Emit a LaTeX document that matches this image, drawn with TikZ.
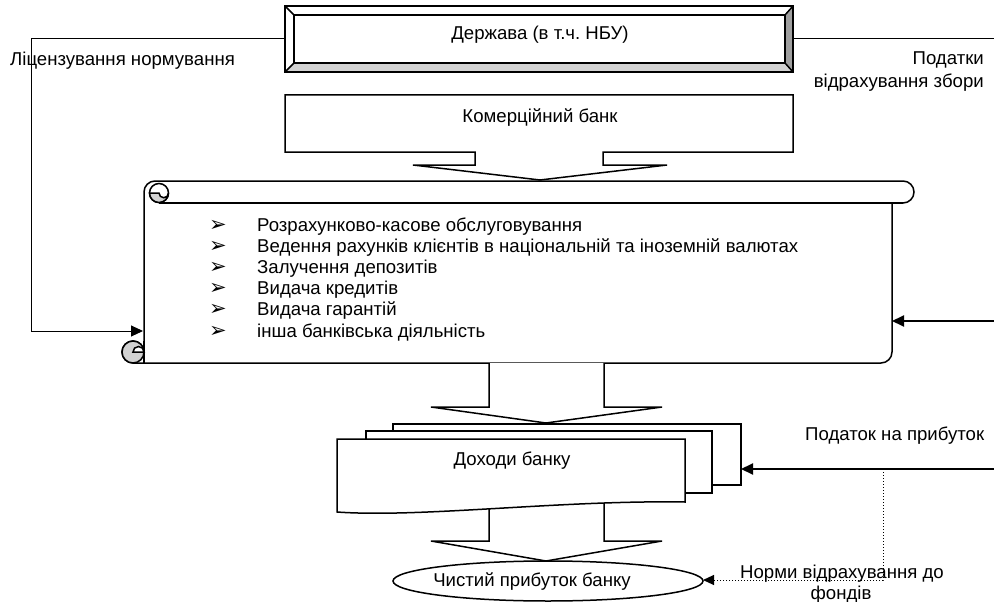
\documentclass[tikz,border=0pt]{standalone}
\usepackage{fontspec}
\setmainfont{Liberation Sans}
\newfontfamily\dingfont{DejaVu Sans}
\usetikzlibrary{arrows.meta}
\frenchspacing

\begin{document}
\begin{tikzpicture}[x=1pt, y=-1pt,
  outline/.style={line width=1.5pt, fill=white},
  link/.style={line width=1pt},
  feed/.style={line width=2pt, arrows={-Triangle[length=12pt, width=11pt]}},
  hint/.style={line width=1pt, dotted, arrows={-Triangle[length=11pt, width=10pt]}},
  label/.style={font=\fontsize{18.6}{23}\selectfont, inner sep=0pt}]
\useasboundingbox (0,0) rectangle (994,602);
\clip (0,0) rectangle (994,602);
%   [ state ]-------------------------------------
%   | [ bank ]                                   |
%   |    v                                       v
%   +-> [ scroll: list of operations ] <----------
%            v
%        [ income ] <------------------- tax
%            v                 :
%        ( profit ) <..........:
% state box with bevel
\draw[outline] (285,6) rectangle (793,72);
\fill[gray!35] (285,72) -- (294,63) -- (785,63) -- (793,72) -- cycle;
\fill[gray!75] (793,6) -- (785,15) -- (785,63) -- (793,72) -- cycle;
\draw[line width=1.5pt] (285,6) rectangle (793,72);
\draw[line width=1.5pt] (294,15) rectangle (785,63);
\draw[line width=1.5pt] (285,6) -- (294,15) (793,6) -- (785,15)
  (285,72) -- (294,63) (793,72) -- (785,63);
\node[label, anchor=base] (state) at (540,40) {Держава (в т.ч. НБУ)};
\coordinate (stateW) at (285,39);
\coordinate (stateE) at (793,39);
% commercial bank with arrow below
\draw[outline] (285,95) -- (793,95) -- (793,152) -- (603,152) -- (603,165)
  -- (667,165) -- (540,180) -- (413,165) -- (475,165) -- (475,152)
  -- (285,152) -- cycle;
\node[label, anchor=base] (bank) at (540,122) {Комерційний банк};
% scroll
\draw[outline] (144,192) arc[start angle=180, end angle=270, radius=11]
  -- (903,181) arc[start angle=270, end angle=450, radius=11]
  -- (892,203) -- (892,352) arc[start angle=0, end angle=90, radius=11]
  -- (133,363) arc[start angle=90, end angle=360, radius=11] -- cycle;
\draw[line width=1.5pt] (159,203) -- (903,203);
\draw[line width=1.5pt, fill=white] (159,193) circle[radius=9.5];
\filldraw[line width=1.5pt, fill=gray!35] (149.5,193)
  arc[start angle=180, end angle=0, radius=9.5]
  arc[start angle=0, end angle=180, radius=4.75] -- cycle;
\filldraw[line width=1.5pt, fill=gray!35] (133,352) circle[radius=11];
\filldraw[line width=1.5pt, fill=white] (133,352)
  arc[start angle=180, end angle=360, radius=5.5] -- cycle;
\draw[line width=1.5pt] (144,341) -- (144,363);
\coordinate (scrollW) at (143,331);
\coordinate (scrollE) at (892,321);
\foreach \item [count=\i] in {Розрахунково-касове обслуговування,
    Ведення рахунків клієнтів в національній та іноземній валютах,
    Залучення депозитів, Видача кредитів, Видача гарантій,
    інша банківська діяльність} {
  \node[label, anchor=base] (bul\i) at (218,231+21.2*\i-21.2) {\dingfont\fontsize{21}{21}\selectfont ➢};
  \node[label, anchor=base west] (op\i) at (257,231+21.2*\i-21.2) {\item};
}
% arrows down
\draw[outline] (489,363) -- (489,407) -- (431,407) -- (546,423) -- (662,407)
  -- (604,407) -- (604,363);
\draw[outline] (489,500) -- (489,541) -- (431,541) -- (546,561) -- (662,541)
  -- (604,541) -- (604,500);
% income, stacked documents
\draw[outline] (393,424) rectangle (741,485);
\draw[outline] (366,431) rectangle (712,493);
\draw[outline] (337,439) -- (685,439) -- (685,502)
  .. controls (560,500) and (420,518) .. (337,512) -- cycle;
\node[label, anchor=base] (income) at (512,465) {Доходи банку};
\coordinate (incomeE) at (741,469);
% profit
\draw[outline] (548,581) ellipse[x radius=155, y radius=20];
\node[label, anchor=base] (profit) at (532,586) {Чистий прибуток банку};
\coordinate (profitE) at (703,580);
% connectors
\draw[link, -{Triangle[length=12pt, width=11pt]}] (stateW) -- (31,39) -- (31,331) -- (scrollW);
\draw[link] (stateE) -- (994,39);
\coordinate (taxR) at (994,321);
\coordinate (incR) at (994,469);
\coordinate (split) at (883,469);
\draw[feed] (taxR) -- (scrollE);
\draw[feed] (incR) -- (incomeE);
\draw[hint] (split) -- (883,580) -- (profitE);
% labels
\node[label, anchor=base west] (licence) at (10,66) {Ліцензування нормування};
\node[label, anchor=base east] (taxes) at (984,65) {Податки};
\node[label, anchor=base east] (levies) at (984,88) {відрахування збори};
\node[label, anchor=base west] (incometax) at (805,440) {Податок на прибуток};
\node[label, anchor=base west] (norms) at (740,578) {Норми відрахування до};
\node[label, anchor=base] (funds) at (841,599) {фондів};
\end{tikzpicture}
\end{document}
